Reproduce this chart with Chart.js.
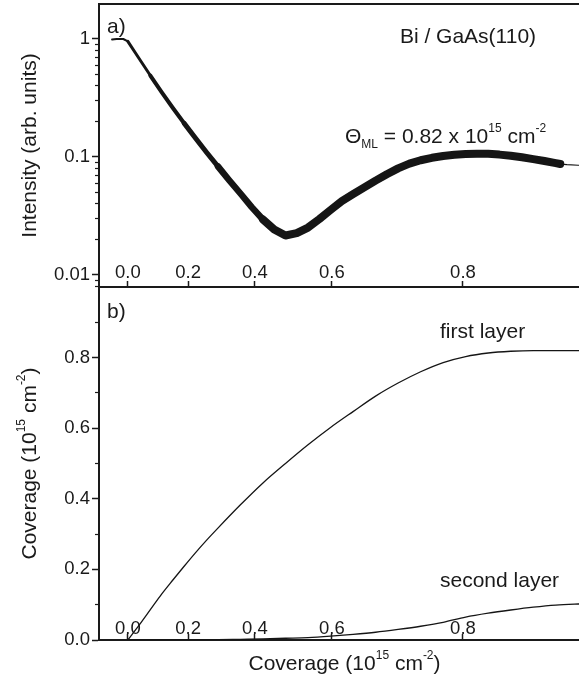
<!DOCTYPE html>
<html>
<head>
<meta charset="utf-8">
<script src="https://cdn.jsdelivr.net/npm/chart.js@4.4.0/dist/chart.umd.min.js"></script>
<style>
  html, body { margin: 0; padding: 0; background: #fff; overflow: hidden; }
  #wrap { position: relative; width: 579px; height: 680px; overflow: hidden; }
  canvas { position: absolute; left: 0; }
  #chartA { top: 0; }
  #chartB { top: 280px; }
</style>
</head>
<body>
<div id="wrap">
  <canvas id="chartA" width="600" height="300"></canvas>
  <canvas id="chartB" width="600" height="400"></canvas>
</div>
<script>
// hidden x variable: deposition time (min); the axis is labelled in coverage
let timeA = [-3.5, -2.5, -1, 0, 2.5, 5, 7.5, 10, 12.5, 15, 17.5, 20, 22.5, 25, 27.5, 30,
    32.5, 35, 37.5, 40, 42.5, 45, 47.5, 50, 52.5, 55, 57.5, 60, 62.5, 65, 67.5, 70,
    72.5, 75, 77.5, 80, 82.5, 85, 87.5, 90, 92.5, 95, 96, 97.5, 100, 102.5];
let intensity = [0.99, 1.0, 1.0, 0.955, 0.684, 0.490, 0.355, 0.260, 0.193, 0.1445, 0.1091, 0.0832,
    0.0635, 0.0490, 0.0376, 0.0295, 0.0243, 0.0216, 0.0226, 0.0252, 0.0297, 0.0355, 0.0422,
    0.0484, 0.0552, 0.063, 0.0714, 0.080, 0.0877, 0.0938, 0.0984, 0.1019, 0.1042, 0.1059,
    0.1067, 0.1064, 0.1047, 0.1023, 0.0993, 0.0959, 0.0923, 0.0887, 0.0871, 0.0861, 0.0851, 0.0847];

let timeB = [0, 2.5, 5, 7.5, 10, 12.5, 15, 17.5, 20, 25, 30, 35, 40, 45, 50, 55, 60, 65, 70,
    75, 80, 85, 90, 95, 100, 102.5];
let firstLayer = [0, 0.042, 0.086, 0.13, 0.17, 0.209, 0.247, 0.283, 0.317, 0.383, 0.445, 0.50,
    0.553, 0.602, 0.647, 0.691, 0.728, 0.760, 0.786, 0.803, 0.813, 0.818, 0.82, 0.82, 0.82, 0.82];
let secondLayer = [0, 0, 0, 0, 0, 0, 0, 0, 0.001, 0.002, 0.003, 0.005, 0.007, 0.011, 0.016,
    0.022, 0.030, 0.039, 0.050, 0.065, 0.076, 0.085, 0.093, 0.099, 0.102, 0.103];

let coverageTicks = ['0.0', '0.2', '0.4', '0.6', '0.8'];
let coverageTickTimes = [0, 13.4, 28.2, 45.3, 74.4];
let intensityTicks = [0.01, 0.1, 1];
let intensityLabels = ['0.01', '0.1', '1'];
let intensityMinor = [0.008, 0.009, 0.02, 0.03, 0.04, 0.05, 0.06, 0.07, 0.08, 0.09,
    0.2, 0.3, 0.4, 0.5, 0.6, 0.7, 0.8, 0.9];
let layerTicks = [0, 0.2, 0.4, 0.6, 0.8];
let layerLabels = ['0.0', '0.2', '0.4', '0.6', '0.8'];
let layerMinor = [0.1, 0.3, 0.5, 0.7, 0.9];

const FONT = "'Liberation Sans', Arial, Helvetica, sans-serif";
const INK = '#1a1a1a';
const TICK_FONT = {family: FONT, size: 18.5};

// the measured signal is a noisy band, wider in the lower part of the curve
function bandWidth(t) {
    if (t < 0) return 2;
    if (t < 5) return 3;
    if (t < 12.5) return 4;
    if (t < 20) return 5;
    if (t < 30) return 6.5;
    if (t < 96) return 8;
    return 1.2;
}

function drawParts(ctx, parts, x, y, align) {
    let total = 0;
    parts.forEach(p => {
        ctx.font = (p.sup || p.sub ? 12 : 21) + 'px ' + FONT;
        p.w = ctx.measureText(p.t).width;
        total += p.w;
    });
    let cx = align === 'center' ? x - total / 2 : x;
    parts.forEach(p => {
        ctx.font = (p.sup || p.sub ? 12 : 21) + 'px ' + FONT;
        let dy = p.sup ? -11 : (p.sub ? 5 : 0);
        ctx.fillText(p.t, cx, y + dy);
        cx += p.w;
    });
}

function fixBox(w, h) {
    return function (scale) {
        if (w !== null) scale.width = w;
        if (h !== null) scale.height = h;
        scale.paddingTop = 0;
        scale.paddingBottom = 0;
        scale.paddingLeft = 0;
        scale.paddingRight = 0;
    };
}

function setTicks(values) {
    return function (scale) {
        scale.ticks = values.map(v => ({value: v}));
    };
}

function coverageAxis(height, pad) {
    return {
        type: 'linear', position: 'bottom', min: -6.4, max: 102.6,
        afterBuildTicks: setTicks(coverageTickTimes),
        afterFit: fixBox(null, height),
        grid: {drawOnChartArea: false, tickLength: -6, tickWidth: 1.5, tickColor: INK},
        border: {color: INK, width: 2},
        ticks: {mirror: true, padding: pad, autoSkip: false, maxRotation: 0, color: INK,
            font: TICK_FONT, callback: (v, i) => coverageTicks[i]}
    };
}

let thetaParts = [{t: 'Θ'}, {t: 'ML', sub: 1}, {t: ' = 0.82 x 10'}, {t: '15', sup: 1},
    {t: ' cm'}, {t: '-2', sup: 1}];
let coverageTitle = [{t: 'Coverage (10'}, {t: '15', sup: 1}, {t: ' cm'}, {t: '-2', sup: 1}, {t: ')'}];

const textA = {
    id: 'textA',
    afterDraw(chart) {
        const {ctx, chartArea: a, scales: {x, y}} = chart;
        ctx.save();
        ctx.fillStyle = INK;
        ctx.textAlign = 'left';
        ctx.textBaseline = 'alphabetic';
        drawParts(ctx, [{t: 'a)'}], a.left + 8, a.top + 29, 'left');
        drawParts(ctx, [{t: 'Bi / GaAs(110)'}], x.getPixelForValue(60.4), y.getPixelForValue(0.92), 'left');
        drawParts(ctx, thetaParts, x.getPixelForValue(48.2), y.getPixelForValue(0.1306), 'left');
        ctx.translate(35.5, (a.top + a.bottom) / 2);
        ctx.rotate(-Math.PI / 2);
        drawParts(ctx, [{t: 'Intensity (arb. units)'}], 0, 0, 'center');
        ctx.restore();
    }
};

const textB = {
    id: 'textB',
    afterDraw(chart) {
        const {ctx, chartArea: a, scales: {x, y}} = chart;
        ctx.save();
        ctx.fillStyle = INK;
        ctx.textAlign = 'left';
        ctx.textBaseline = 'alphabetic';
        drawParts(ctx, [{t: 'b)'}], a.left + 8, a.top + 31, 'left');
        drawParts(ctx, [{t: 'first layer'}], x.getPixelForValue(69.3), y.getPixelForValue(0.855), 'left');
        drawParts(ctx, [{t: 'second layer'}], x.getPixelForValue(69.3), y.getPixelForValue(0.149), 'left');
        drawParts(ctx, coverageTitle, (a.left + a.right) / 2, a.bottom + 29.5, 'center');
        ctx.translate(35.5, (a.top + a.bottom) / 2);
        ctx.rotate(-Math.PI / 2);
        drawParts(ctx, coverageTitle, 0, 0, 'center');
        ctx.restore();
    }
};

let sharedOptions = {
    responsive: false,
    animation: false,
    devicePixelRatio: 1,
    plugins: {legend: {display: false}, tooltip: {enabled: false}}
};

let chartA = new Chart(document.getElementById('chartA'), {
    type: 'line',
    data: {
        datasets: [{
            data: timeA.map((t, i) => ({x: t, y: intensity[i]})),
            borderColor: '#151515',
            borderWidth: 2,
            pointRadius: 0,
            borderCapStyle: 'round',
            borderJoinStyle: 'round',
            tension: 0,
            segment: {borderWidth: c => bandWidth(c.p0.parsed.x)}
        }]
    },
    options: Object.assign({}, sharedOptions, {
        layout: {padding: {left: 0, right: 10, top: 0, bottom: 0}},
        scales: {
            x: coverageAxis(13, 2.6),
            xTop: {
                type: 'linear', position: 'top',
                afterFit: fixBox(null, 4),
                ticks: {display: false},
                grid: {drawOnChartArea: false, drawTicks: false},
                border: {color: INK, width: 2}
            },
            y: {
                type: 'logarithmic', position: 'left', weight: 1, min: 0.0079, max: 1.98,
                afterBuildTicks: setTicks(intensityTicks),
                afterFit: fixBox(99, null),
                grid: {drawOnChartArea: false, tickLength: 7, tickWidth: 1.5, tickColor: INK},
                border: {color: INK, width: 2},
                ticks: {padding: 2, color: INK, font: TICK_FONT, autoSkip: false,
                    callback: (v, i) => intensityLabels[i]}
            },
            yMinor: {
                type: 'logarithmic', position: 'left', weight: 0, min: 0.0079, max: 1.98,
                afterBuildTicks: setTicks(intensityMinor),
                afterFit: fixBox(0, null),
                grid: {drawOnChartArea: false, tickLength: 4, tickWidth: 1.2, tickColor: INK},
                border: {display: false},
                ticks: {display: false}
            }
        }
    }),
    plugins: [textA]
});

let chartB = new Chart(document.getElementById('chartB'), {
    type: 'line',
    data: {
        datasets: [{
            data: timeB.map((t, i) => ({x: t, y: firstLayer[i]})),
            borderColor: '#151515',
            borderWidth: 1.3,
            pointRadius: 0,
            cubicInterpolationMode: 'monotone'
        }, {
            data: timeB.map((t, i) => ({x: t, y: secondLayer[i]})),
            borderColor: '#151515',
            borderWidth: 1.3,
            pointRadius: 0,
            cubicInterpolationMode: 'monotone'
        }]
    },
    options: Object.assign({}, sharedOptions, {
        layout: {padding: {left: 0, right: 10, top: 7, bottom: 0}},
        scales: {
            x: coverageAxis(40, 0.4),
            y: {
                type: 'linear', position: 'left', weight: 1, min: 0, max: 1.0,
                afterBuildTicks: setTicks(layerTicks),
                afterFit: fixBox(99, null),
                grid: {drawOnChartArea: false, tickLength: 7, tickWidth: 1.5, tickColor: INK},
                border: {color: INK, width: 2},
                ticks: {padding: 2, color: INK, font: TICK_FONT, autoSkip: false,
                    callback: (v, i) => layerLabels[i]}
            },
            yMinor: {
                type: 'linear', position: 'left', weight: 0, min: 0, max: 1.0,
                afterBuildTicks: setTicks(layerMinor),
                afterFit: fixBox(0, null),
                grid: {drawOnChartArea: false, tickLength: 4, tickWidth: 1.2, tickColor: INK},
                border: {display: false},
                ticks: {display: false}
            }
        }
    }),
    plugins: [textB]
});
</script>
</body>
</html>
